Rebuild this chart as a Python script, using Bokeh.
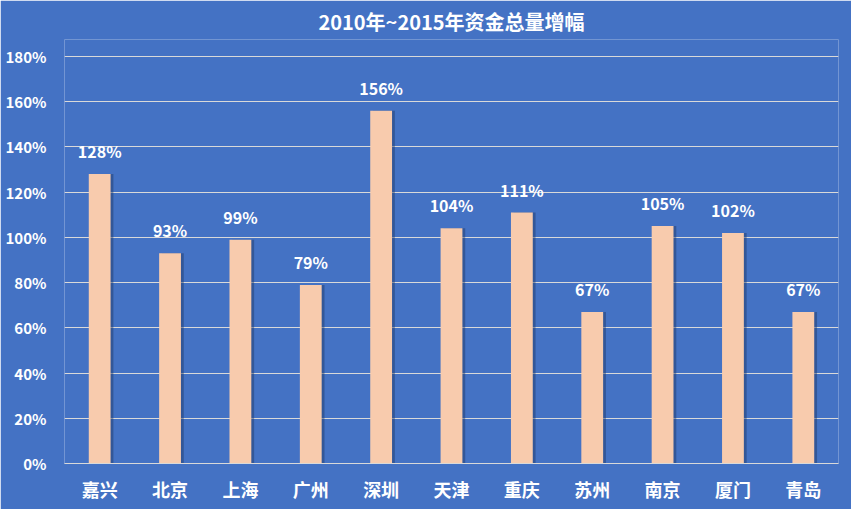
from bokeh.plotting import figure
from bokeh.models import ColumnDataSource, NumeralTickFormatter, FixedTicker, Range1d
from bokeh.transform import dodge
from bokeh.core.properties import value
from bokeh.embed import file_html
from bokeh.resources import INLINE

cities = ["嘉兴", "北京", "上海", "广州", "深圳", "天津", "重庆", "苏州", "南京", "厦门", "青岛"]
growth = [1.28, 0.93, 0.99, 0.79, 1.56, 1.04, 1.11, 0.67, 1.05, 1.02, 0.67]
labels = ["128%", "93%", "99%", "79%", "156%", "104%", "111%", "67%", "105%", "102%", "67%"]
y_ticks = [0, 0.2, 0.4, 0.6, 0.8, 1.0, 1.2, 1.4, 1.6, 1.8]
title_text = "2010年~2015年资金总量增幅"

BG = "#4472C4"
FONT = "Noto Sans CJK SC"

src = ColumnDataSource(dict(city=cities, v=growth, lab=labels))

# frame spans 40..463 px; 180% gridline sits at 57 px
p = figure(x_range=cities, y_range=Range1d(0, 1.8 * 423 / 406), width=851, height=509,
           output_backend="svg", toolbar_location=None,
           min_border_left=64, min_border_right=13, min_border_top=10, min_border_bottom=46)
p.background_fill_color = BG
p.border_fill_color = BG
p.outline_line_color = None

p.title.text = title_text
p.title.align = "center"
p.title.offset = -26
p.title.text_color = "white"
p.title.text_font = FONT
p.title.text_font_style = "bold"
p.title.text_font_size = "20px"
p.title.standoff = 8

# shadow
p.vbar(x=dodge("city", 0.04, range=p.x_range), top="v", width=0.31, source=src,
       fill_color="#1F3864", fill_alpha=0.45, line_color=None)
p.vbar(x="city", top="v", width=0.31, source=src, fill_color="#F8CBAD", line_color=None)

p.text(x="city", y="v", text="lab", source=src, x_offset=0, y_offset=-11,
       text_align="center", text_baseline="bottom", text_color="white",
       text_font=value(FONT), text_font_style="bold", text_font_size="16px")

p.yaxis.ticker = FixedTicker(ticks=y_ticks)
p.yaxis.formatter = NumeralTickFormatter(format="0%")
p.yaxis.axis_line_color = None
p.yaxis.major_tick_line_color = None
p.yaxis.minor_tick_line_color = None
p.yaxis.major_label_text_color = "white"
p.yaxis.major_label_text_font = FONT
p.yaxis.major_label_text_font_style = "bold"
p.yaxis.major_label_text_font_size = "15px"
p.yaxis.major_label_standoff = 12

p.xaxis.axis_line_color = "#D9D9D9"
p.xaxis.major_tick_line_color = None
p.xaxis.minor_tick_line_color = None
p.xaxis.major_label_text_color = "white"
p.xaxis.major_label_text_font = FONT
p.xaxis.major_label_text_font_style = "bold"
p.xaxis.major_label_text_font_size = "18px"
p.xaxis.major_label_standoff = 6

p.xgrid.grid_line_color = None
p.ygrid.grid_line_color = "#D9D9D9"
p.ygrid.grid_line_width = 1

open("out.html", "w").write(file_html(p, INLINE))
